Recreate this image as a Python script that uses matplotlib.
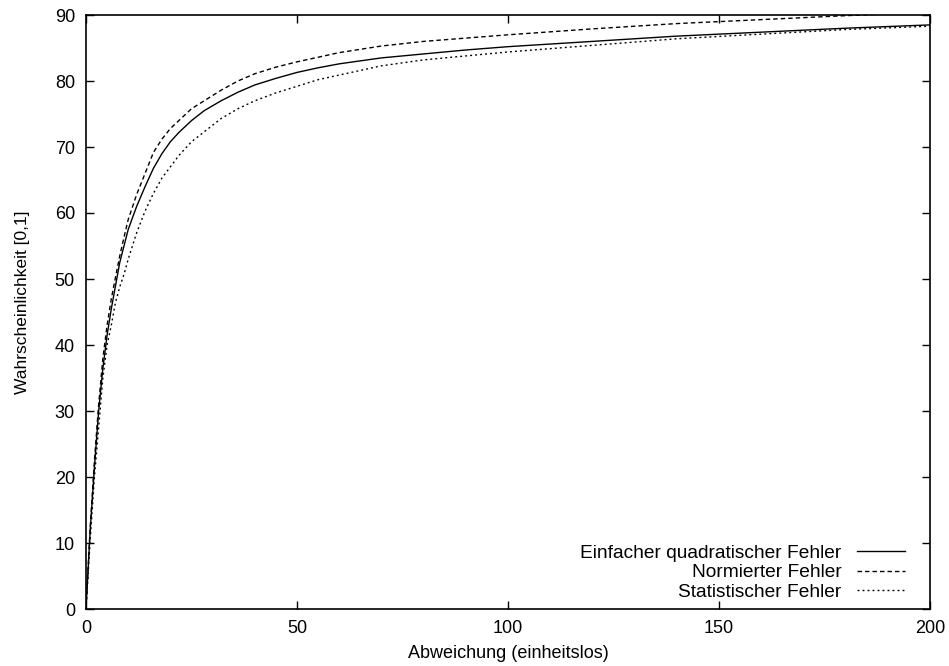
import matplotlib.pyplot as plt
import numpy as np

plt.rcParams['font.family'] = ['Liberation Sans', 'DejaVu Sans']

# Werte
x_werte = [0, 1, 2, 3, 4, 5, 6, 7, 8, 9, 10, 12, 14, 16, 18, 20, 22, 25, 28,
           32, 36, 40, 45, 50, 55, 60, 70, 80, 90, 100, 120, 140, 160, 180, 200]
einfach = [0, 12, 21.5, 30, 36.5, 41.5, 45.5, 49, 52.5, 55, 57.5, 61, 64,
           66.8, 69, 70.8, 72.2, 74, 75.5, 77, 78.3, 79.4, 80.4, 81.3, 82,
           82.6, 83.5, 84.1, 84.7, 85.2, 86.0, 86.8, 87.4, 88.0, 88.5]
normiert = [0, 12.5, 22.5, 31, 38, 43, 47, 50.3, 53.5, 56.3, 59, 62.8, 66,
            69.2, 71.2, 72.8, 74, 75.8, 77, 78.6, 80, 81.1, 82.1, 82.9, 83.6,
            84.3, 85.3, 86, 86.5, 87, 87.9, 88.7, 89.3, 89.9, 90.4]
statistisch = [0, 10.5, 20, 27.5, 35, 40, 43, 46.5, 48.8, 50.7, 53, 57, 60.3,
               63, 65.3, 67, 68.7, 70.8, 72.3, 74.3, 75.8, 77, 78.2, 79.2,
               80.2, 80.9, 82.3, 83.2, 83.8, 84.4, 85.4, 86.4, 87.1, 87.8, 88.3]
labels = ['Einfacher quadratischer Fehler', 'Normierter Fehler',
          'Statistischer Fehler']

fig = plt.figure(figsize=(9.49, 6.66), dpi=100)
ax = fig.add_axes([86 / 949, 57 / 666, 844 / 949, 594 / 666])

ax.plot(x_werte, einfach, color='black', lw=1.0, label=labels[0])
ax.plot(x_werte, normiert, color='black', lw=1.0, dashes=(3.2, 2.2),
        label=labels[1])
ax.plot(x_werte, statistisch, color='black', lw=1.0, dashes=(1.4, 2.2),
        label=labels[2])

ax.set_xlim(0, 200)
ax.set_ylim(0, 90)
ax.set_xticks([0, 50, 100, 150, 200])
ax.set_yticks(np.arange(0, 91, 10))
ax.tick_params(direction='in', length=6, width=1, top=True, right=True,
               labelsize=13, pad=8)
for s in ax.spines.values():
    s.set_linewidth(1.2)

ax.set_xlabel('Abweichung (einheitslos)', fontsize=13, labelpad=6)
ax.set_ylabel('Wahrscheinlichkeit [0,1]', fontsize=12.5)
ax.yaxis.set_label_coords(-0.066, 0.517)

ax.legend(loc='lower right', frameon=False, markerfirst=False, fontsize=13.8,
          handlelength=2.5, handletextpad=0.8, labelspacing=0.1,
          borderpad=0, borderaxespad=0, bbox_to_anchor=(0.970, 0.014))

plt.savefig('out.png', dpi=100)
